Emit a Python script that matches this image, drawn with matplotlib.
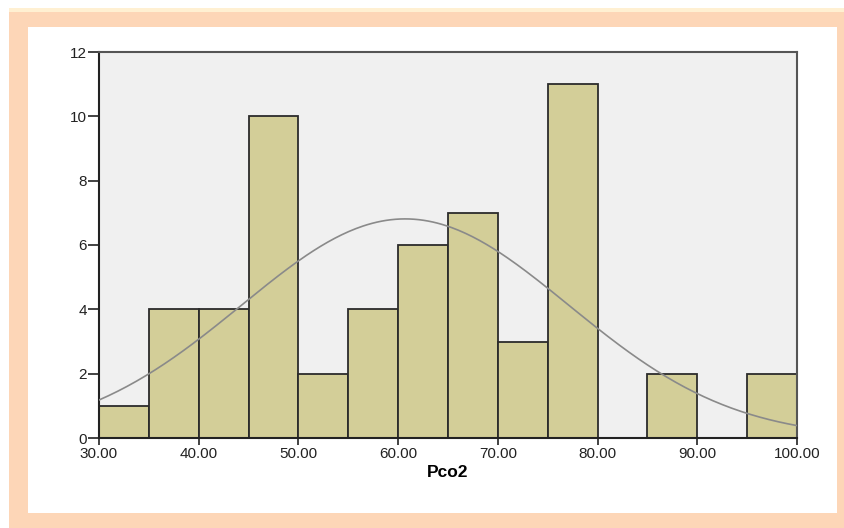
import numpy as np
import matplotlib
matplotlib.use("Agg")
import matplotlib.pyplot as plt
from matplotlib.patches import Rectangle

# histogram of Pco2, bins of width 5 from 30 to 100
bin_edges = [30, 35, 40, 45, 50, 55, 60, 65, 70, 75, 80, 85, 90, 95, 100]
counts = [1, 4, 4, 10, 2, 4, 6, 7, 3, 11, 0, 2, 0, 2]
x_ticks = [30, 40, 50, 60, 70, 80, 90, 100]
x_labels = ["30.00", "40.00", "50.00", "60.00", "70.00", "80.00", "90.00", "100.00"]
y_ticks = [0, 2, 4, 6, 8, 10, 12]

# fitted normal curve parameters
curve_mean = 60.7
curve_sd = 16.4

plt.rcParams['font.family'] = ['Liberation Sans', 'DejaVu Sans']

fig = plt.figure(figsize=(8.44, 5.28), dpi=100)
W, H = 844, 528

# peach frame with white inside (kept behind the axes)
fig.patches.append(Rectangle((9 / W, 0), (W - 9) / W, (H - 8) / H,
                             transform=fig.transFigure, facecolor="#fdd6b7",
                             edgecolor="none", zorder=-3))
fig.patches.append(Rectangle((9 / W, (H - 12) / H), (W - 9) / W, 4 / H,
                             transform=fig.transFigure, facecolor="#fff0d2",
                             edgecolor="none", zorder=-2))
fig.patches.append(Rectangle((28 / W, (H - 513) / H), (837 - 28) / W, (513 - 27) / H,
                             transform=fig.transFigure, facecolor="white",
                             edgecolor="none", zorder=-1))

ax = fig.add_axes([99 / W, (H - 438) / H, (797 - 99) / W, (438 - 52) / H])
ax.set_facecolor("#f0f0f0")

widths = np.diff(bin_edges)
ax.bar(bin_edges[:-1], counts, width=widths, align="edge",
       color="#d3ce98", edgecolor="#2b2b2b", linewidth=1.3, zorder=2)

xs = np.linspace(30, 100, 300)
n = sum(counts)
ys = n * 5 / (curve_sd * np.sqrt(2 * np.pi)) * np.exp(-0.5 * ((xs - curve_mean) / curve_sd) ** 2)
ax.plot(xs, ys, color="#8a8a8a", linewidth=1.2, zorder=3)

ax.set_xlim(30, 100)
ax.set_ylim(0, 12)
ax.set_xticks(x_ticks)
ax.set_xticklabels(x_labels)
ax.set_yticks(y_ticks)
ax.tick_params(axis="y", direction="out", length=8, width=1.2,
               labelsize=11, colors="#222222", pad=0.5)
ax.tick_params(axis="x", direction="out", length=5, width=1.2,
               labelsize=11, colors="#222222", pad=1.5)

for side in ["left", "bottom"]:
    ax.spines[side].set_color("#222222")
    ax.spines[side].set_linewidth(1.5)
for side in ["top", "right"]:
    ax.spines[side].set_color("#555555")
    ax.spines[side].set_linewidth(1.5)

ax.set_xlabel("Pco2", fontsize=12.5, fontweight="bold", labelpad=3)

fig.savefig("out.png", dpi=100)
